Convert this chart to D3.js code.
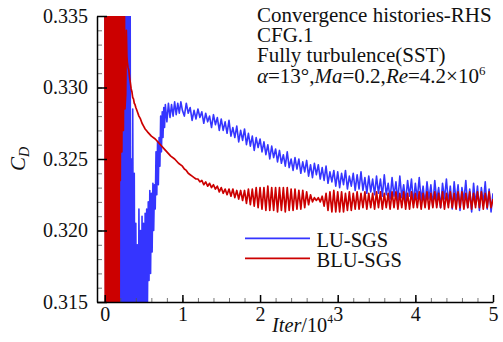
<!DOCTYPE html>
<html>
<head>
<meta charset="utf-8">
<script src="https://cdn.jsdelivr.net/npm/d3@7"></script>
<style>
  body { margin: 0; background: #fff; }
  svg text { font-family: "Liberation Serif", "Times New Roman", serif; fill: #111; }
</style>
</head>
<body>
<svg id="chart" width="503" height="342"></svg>
<script>
// ---- data ----
const xTicks = [0, 1, 2, 3, 4, 5];
const yTicks = [0.315, 0.320, 0.325, 0.330, 0.335];
const seriesNames = ['LU-SGS', 'BLU-SGS'];
const noteLines = ['Convergence histories-RHS', 'CFG.1', 'Fully turbulence(SST)'];

// start-up transient, [iter/1e4, CD]
const blueEarly = [
  [0.000, .345], [0.016, .305], [0.032, .345], [0.048, .305], [0.064, .345], [0.080, .305],
  [0.096, .345], [0.112, .305], [0.128, .345], [0.144, .305], [0.160, .345], [0.172, .305],
  [0.184, .345], [0.196, .305], [0.208, .345], [0.220, .305], [0.232, .345], [0.244, .305],
  [0.256, .345], [0.268, .305], [0.280, .345], [0.292, .305], [0.304, .345], [0.316, .305],
  [0.325, .345], [0.335, .306], [0.345, .3250], [0.352, .310], [0.360, .3285], [0.370, .312],
  [0.380, .3240], [0.390, .308], [0.400, .3205], [0.410, .310], [0.420, .3190], [0.430, .309],
  [0.440, .3215], [0.450, .312], [0.460, .3200], [0.470, .310], [0.480, .3210], [0.490, .3135],
  [0.500, .3205], [0.510, .311], [0.520, .3212], [0.530, .3135], [0.540, .3215], [0.550, .3150],
  [0.560, .3220], [0.570, .3165], [0.580, .3228], [0.590, .3170], [0.600, .3226], [0.610, .3185],
  [0.620, .3233], [0.630, .3200], [0.640, .3232], [0.650, .3215], [0.660, .3255], [0.670, .3225],
  [0.680, .3262], [0.690, .3232], [0.700, .3265], [0.710, .3245], [0.720, .3280], [0.730, .3255],
  [0.740, .3283], [0.750, .3265], [0.760, .3286], [0.770, .3272], [0.780, .3288], [0.800, .3276],
  [0.820, .3289], [0.840, .3279], [0.860, .3288], [0.880, .3280], [0.900, .3290], [0.920, .3281],
  [0.940, .3289], [0.960, .3282], [0.980, .3290]
];
const redEarly = [
  [0.000, .345], [0.008, .305], [0.016, .345], [0.024, .305], [0.032, .345], [0.040, .305],
  [0.048, .345], [0.056, .305], [0.064, .345], [0.072, .305], [0.080, .345], [0.088, .305],
  [0.096, .345], [0.104, .305], [0.112, .345], [0.120, .305], [0.128, .345], [0.136, .305],
  [0.144, .345], [0.152, .305], [0.160, .345], [0.168, .305], [0.176, .345], [0.184, .305],
  [0.192, .345], [0.200, .3235], [0.210, .340], [0.220, .3255], [0.230, .340], [0.240, .3270],
  [0.250, .339], [0.260, .3285], [0.270, .3295], [0.278, .3340], [0.285, .3322], [0.290, .3318],
  [0.300, .3314], [0.310, .3312], [0.320, .3307], [0.330, .3303], [0.340, .3299], [0.350, .3297],
  [0.360, .3293], [0.370, .3292], [0.380, .3289], [0.390, .3288], [0.400, .3286], [0.420, .3283],
  [0.440, .3280], [0.460, .3278], [0.480, .3275], [0.500, .3273], [0.520, .3271], [0.550, .3269],
  [0.600, .3266], [0.650, .3264], [0.700, .3261], [0.750, .3258], [0.800, .3255], [0.850, .3252],
  [0.900, .3250], [0.950, .3247]
];

// saved every 250 iterations from iter = 1.0e4 on
const lateStart = 1.0;
const lateStep = 0.025;
const blueLate = [
  .3284, .3280, .3289, .3282, .3286, .3277, .3284, .3278, .3285, .3279,
  .3283, .3275, .3282, .3276, .3280, .3272, .3281, .3274, .3279, .3270,
  .3278, .3270, .3276, .3268, .3277, .3266, .3272, .3265, .3273, .3262,
  .3270, .3263, .3271, .3260, .3268, .3259, .3266, .3256, .3265, .3258,
  .3264, .3255, .3262, .3253, .3260, .3250, .3259, .3251, .3257, .3248,
  .3256, .3247, .3253, .3245, .3255, .3244, .3250, .3242, .3251, .3243,
  .3250, .3240, .3248, .3241, .3249, .3238, .3246, .3237, .3247, .3239,
  .3246, .3236, .3244, .3235, .3245, .3233, .3241, .3234, .3242, .3231,
  .3241, .3230, .3240, .3232, .3242, .3229, .3238, .3231, .3240, .3228,
  .3239, .3229, .3241, .3228, .3237, .3226, .3238, .3227, .3236, .3225,
  .3238, .3226, .3236, .3224, .3239, .3225, .3233, .3222, .3237, .3224,
  .3234, .3221, .3238, .3223, .3232, .3220, .3235, .3224, .3236, .3219,
  .3233, .3222, .3237, .3221, .3231, .3218, .3234, .3222, .3232, .3217,
  .3235, .3221, .3230, .3216, .3233, .3222, .3236, .3219, .3231, .3215,
  .3234, .3220, .3232, .3214, .3230, .3221, .3235, .3216, .3229, .3213,
  .3233, .3218, .3231, .3214, .3230, .3219, .3234, .3215, .3229, .3213,
  .3226
];
const redLate = [
  .3245, .3243, .3242, .3240, .3239, .3238, .3237, .3236, .3236, .3234,
  .3235, .3232, .3234, .3231, .3233, .3230, .3232, .3229, .3231, .3227,
  .3230, .3226, .3229, .3225, .3229, .3224, .3229, .3223, .3228, .3222,
  .3228, .3221, .3228, .3219, .3229, .3218, .3229, .3217, .3230, .3216,
  .3230, .3215, .3230, .3214, .3231, .3214, .3230, .3214, .3230, .3213,
  .3230, .3214, .3230, .3213, .3230, .3214, .3229, .3214, .3229, .3215,
  .3228, .3215, .3228, .3216, .3227, .3218, .3225, .3220, .3223, .3221,
  .3223, .3220, .3224, .3217, .3226, .3214, .3227, .3213, .3228, .3213,
  .3227, .3213, .3227, .3213, .3226, .3214, .3227, .3214, .3226, .3215,
  .3227, .3215, .3226, .3216, .3227, .3215, .3226, .3216, .3226, .3215,
  .3227, .3216, .3227, .3215, .3226, .3216, .3226, .3215, .3227, .3216,
  .3227, .3215, .3226, .3216, .3227, .3215, .3226, .3215, .3227, .3216,
  .3226, .3216, .3227, .3215, .3226, .3216, .3227, .3215, .3226, .3216,
  .3227, .3216, .3226, .3216, .3227, .3215, .3226, .3216, .3227, .3216,
  .3226, .3215, .3227, .3216, .3227, .3215, .3226, .3216, .3227, .3215,
  .3226, .3216, .3227, .3216, .3227, .3215, .3226, .3216, .3227, .3216,
  .3222
];

// ---- layout ----
const svg = d3.select('#chart');
const plotLeft = 97, plotRight = 493, plotTop = 16, plotBottom = 302;
const blue = '#3535ff', red = '#cc0000';
const serif = '"Liberation Serif", "Times New Roman", serif';

const x = d3.scaleLinear().domain([-0.1, 5]).range([plotLeft, plotRight]);
const y = d3.scaleLinear().domain([0.315, 0.335]).range([plotBottom, plotTop]);

svg.append('rect').attr('width', 503).attr('height', 342).attr('fill', '#fff');

svg.append('defs').append('clipPath').attr('id', 'plotClip')
  .append('rect').attr('x', plotLeft).attr('y', plotTop)
  .attr('width', plotRight - plotLeft).attr('height', plotBottom - plotTop);

function withLate(early, late) {
  return early.concat(late.map((v, i) => [lateStart + i * lateStep, v]));
}
const blueData = withLate(blueEarly, blueLate);
const redData = withLate(redEarly, redLate);

const line = d3.line().x(d => x(d[0])).y(d => y(d[1]));

const plot = svg.append('g').attr('clip-path', 'url(#plotClip)');
plot.append('path').datum(blueData)
  .attr('d', line).attr('fill', 'none')
  .attr('stroke', blue).attr('stroke-width', 1.6).attr('stroke-linejoin', 'round');
plot.append('path').datum(redData)
  .attr('d', line).attr('fill', 'none')
  .attr('stroke', red).attr('stroke-width', 1.7).attr('stroke-linejoin', 'round');

// minor ticks
svg.append('g').attr('transform', `translate(${plotLeft},0)`)
  .call(d3.axisLeft(y).tickValues(d3.range(0.315, 0.3351, 0.001)).tickSize(-5).tickFormat(''))
  .call(g => g.select('.domain').remove())
  .call(g => g.selectAll('line').attr('stroke', '#555').attr('stroke-width', 0.8));
svg.append('g').attr('transform', `translate(0,${plotBottom})`)
  .call(d3.axisBottom(x).tickValues(d3.range(0, 5.01, 0.2)).tickSize(-4).tickFormat(''))
  .call(g => g.select('.domain').remove())
  .call(g => g.selectAll('line').attr('stroke', '#555').attr('stroke-width', 0.8));

// major axes
const yAxis = svg.append('g').attr('transform', `translate(${plotLeft},0)`)
  .call(d3.axisLeft(y).tickValues(yTicks).tickSize(-10).tickSizeOuter(0)
    .tickPadding(9).tickFormat(d3.format('.3f')));
const xAxis = svg.append('g').attr('transform', `translate(0,${plotBottom})`)
  .call(d3.axisBottom(x).tickValues(xTicks).tickSize(-7).tickSizeOuter(0)
    .tickPadding(5).tickFormat(d3.format('d')));
[yAxis, xAxis].forEach(g => {
  g.attr('font-family', serif);
  g.select('.domain').attr('stroke', '#000').attr('stroke-width', 1.5);
  g.selectAll('line').attr('stroke', '#000').attr('stroke-width', 1.5);
  g.selectAll('text').attr('font-size', 20).attr('fill', '#111');
});

// axis titles
const yTitle = svg.append('text')
  .attr('transform', 'translate(25,159) rotate(-90)')
  .attr('text-anchor', 'middle').attr('font-size', 21);
yTitle.append('tspan').attr('font-style', 'italic').text('C');
yTitle.append('tspan').attr('font-style', 'italic').attr('font-size', 14).attr('dy', 4).text('D');

// x title: starts at 272 and must end before the "3" tick label
const xTitle = svg.append('text').attr('x', 272).attr('y', 331.5).attr('font-size', 21);
xTitle.append('tspan').attr('font-style', 'italic').text('Iter');
xTitle.append('tspan').text('/10');
xTitle.append('tspan').attr('font-size', 12).attr('dy', -9).text('4');
const xtw = xTitle.node().getComputedTextLength();
if (xtw > 61) xTitle.attr('textLength', 61).attr('lengthAdjust', 'spacingAndGlyphs');

// annotation block
const noteX = 257, noteSize = 21;
noteLines.forEach((t, i) => {
  svg.append('text').attr('x', noteX).attr('y', 22 + i * 20.2)
    .attr('font-size', noteSize).text(t);
});
const cond = svg.append('text').attr('x', noteX).attr('y', 82.6).attr('font-size', noteSize);
[['α', true], ['=13°,', false], ['Ma', true], ['=0.2,', false], ['Re', true], ['=4.2×10', false]]
  .forEach(([t, it]) => cond.append('tspan').attr('font-style', it ? 'italic' : 'normal').text(t));
cond.append('tspan').attr('font-size', 13).attr('dy', -8).text('6');

// legend
const legendColors = [blue, red];
seriesNames.forEach((name, i) => {
  const ly = 238.3 + i * 20;
  svg.append('line').attr('x1', 245).attr('x2', 310).attr('y1', ly).attr('y2', ly)
    .attr('stroke', legendColors[i]).attr('stroke-width', 1.8);
  svg.append('text').attr('x', 316.5).attr('y', ly + 8.3).attr('font-size', 20.5).text(name);
});
</script>
</body>
</html>
